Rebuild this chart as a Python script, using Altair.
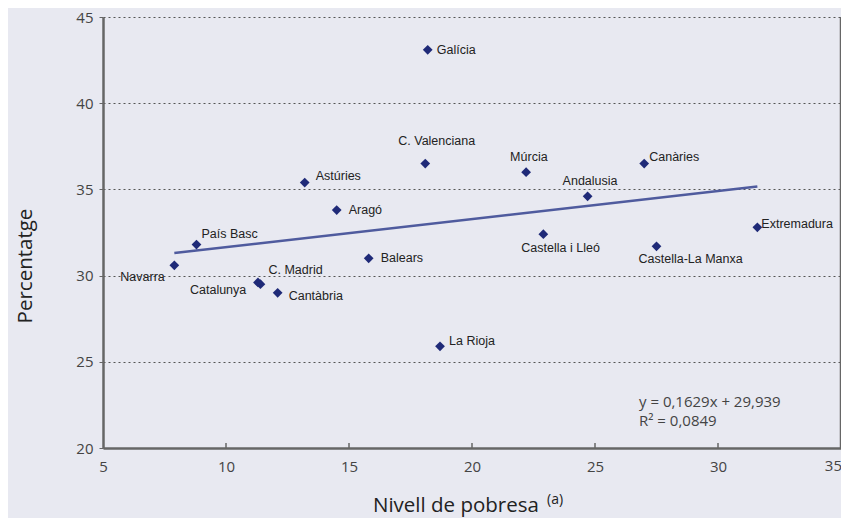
import altair as alt
import pandas as pd

regions = ["Galícia", "C. Valenciana", "Múrcia", "Canàries", "Andalusia", "Astúries",
           "Aragó", "País Basc", "Navarra", "Balears", "C. Madrid", "Catalunya",
           "Cantàbria", "La Rioja", "Castella i Lleó", "Castella-La Manxa", "Extremadura"]
pobresa = [18.2, 18.1, 22.2, 27.0, 24.7, 13.2, 14.5, 8.8, 7.9, 15.8, 11.4, 11.3,
           12.1, 18.7, 22.9, 27.5, 31.6]
percent = [43.1, 36.5, 36.0, 36.5, 34.6, 35.4, 33.8, 31.8, 30.6, 31.0, 29.5, 29.6,
           29.0, 25.9, 32.4, 31.7, 32.8]

# label offsets (pixels) relative to each point, left-aligned text
label_dx = [9, -27, -16, 5, -25, 11, 12, 5, -54, 12, 8, -68, 11, 9, -22, -18, 4]
label_dy = [0, -23, -15, -7, -15, -7, 0, -11, 12, 0, -14, 8, 3, -5, 14, 13, -3]

x_ticks = [5, 10, 15, 20, 25, 30, 35]
y_ticks = [20, 25, 30, 35, 40, 45]
equation = ["y = 0,1629x + 29,939", "R² = 0,0849"]

df = pd.DataFrame({"region": regions, "x": pobresa, "y": percent})

W, H = 738, 431
BG = "#e8e9f1"
xs = alt.Scale(domain=[5, 35], nice=False, zero=False)
ys = alt.Scale(domain=[20, 45], nice=False, zero=False)

x_axis = alt.Axis(values=x_ticks[:-1], title=None, grid=False, ticks=False,
                  domainColor="#666666", domainWidth=2.5, labelFont="Open Sans",
                  labelFontSize=15, labelColor="#444444", labelPadding=11,
                  labelFlush=False)
y_axis = alt.Axis(values=y_ticks, title=None, grid=True, gridDash=[2, 3],
                  gridColor="#555555", gridWidth=1, ticks=True, tickSize=4,
                  tickColor="#666666", domainColor="#666666", domainWidth=2.5,
                  labelFont="Open Sans", labelFontSize=15, labelColor="#444444",
                  labelPadding=6, labelFlush=False)


def X(field="x:Q"):
    return alt.X(field, scale=xs, axis=x_axis)


def Y(field="y:Q"):
    return alt.Y(field, scale=ys, axis=y_axis)


base = alt.Chart(df)

trend = base.transform_regression("x", "y").mark_line(color="#4f5b9e", strokeWidth=2.5).encode(
    x=X(), y=Y()
)

points = base.mark_point(shape="diamond", filled=True, size=95, color="#1f2a78", opacity=1).encode(
    x=X(), y=Y()
)

labels = []
for i, r in enumerate(regions):
    labels.append(
        alt.Chart(df.iloc[[i]]).mark_text(
            align="left", baseline="middle", dx=label_dx[i], dy=label_dy[i],
            font="Liberation Sans", fontSize=12.5, color="#222222"
        ).encode(x=X(), y=Y(), text="region:N")
    )

border = alt.Chart(pd.DataFrame({"x": [35]})).mark_rule(color="#666666", strokeWidth=2.5).encode(
    x=X(), y=alt.value(0), y2=alt.value(H)
)

xticks_df = pd.DataFrame({"x": x_ticks[1:]})
xticks = alt.Chart(xticks_df).mark_rule(color="#666666", strokeWidth=1.5).encode(
    x=X(), y=alt.value(H), y2=alt.value(H - 5)
)

# last x tick label, kept inside the page edge
last_label = alt.Chart(pd.DataFrame({"x": [x_ticks[-1]], "t": [str(x_ticks[-1])]})).mark_text(
    align="right", baseline="top", font="Open Sans", fontSize=15, color="#444444", dx=1
).encode(x=X(), y=alt.value(H + 11), text="t:N")

eq_layers = []
for i, t in enumerate(equation):
    eq_layers.append(
        alt.Chart(pd.DataFrame({"t": [t]})).mark_text(
            align="left", baseline="middle", font="Open Sans", fontSize=15, color="#444444"
        ).encode(x=alt.value(536), y=alt.value(385 + 19 * i), text="t:N")
    )

ytitle = alt.Chart(pd.DataFrame({"t": ["Percentatge"]})).mark_text(
    angle=270, align="center", baseline="middle", font="Open Sans", fontSize=20.5, color="#222222"
).encode(x=alt.value(-77), y=alt.value(249), text="t:N")

xtitle = alt.Chart(pd.DataFrame({"t": ["Nivell de pobresa"]})).mark_text(
    align="left", baseline="middle", font="Open Sans", fontSize=20.5, color="#222222"
).encode(x=alt.value(270), y=alt.value(489), text="t:N")

xsup = alt.Chart(pd.DataFrame({"t": ["(a)"]})).mark_text(
    align="left", baseline="middle", font="Open Sans", fontSize=14, color="#222222"
).encode(x=alt.value(444), y=alt.value(483), text="t:N")

chart = alt.layer(trend, points, *labels, border, xticks, last_label, *eq_layers,
                  ytitle, xtitle, xsup).properties(
    width=W, height=H, background=BG,
    autosize=alt.AutoSizeParams(type="none"),
    padding={"left": 95, "top": 9, "right": 0, "bottom": 70},
).configure_view(stroke=None, fill=BG)

chart.save("out.html", embed_options={"renderer": "svg", "actions": False})
